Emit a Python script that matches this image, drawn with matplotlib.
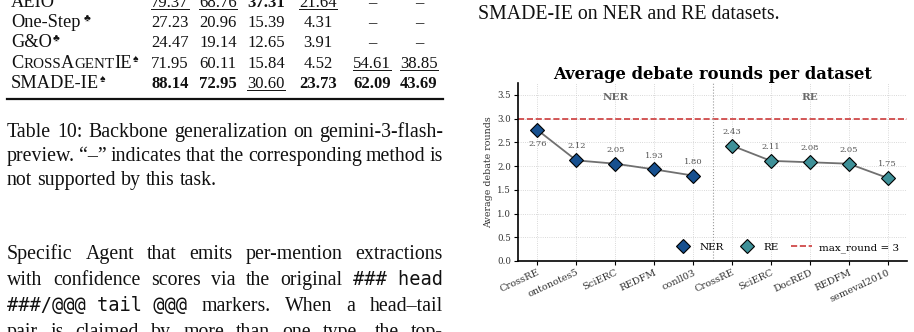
import numpy as np
import matplotlib
matplotlib.use("Agg")
import matplotlib.pyplot as plt
from matplotlib.lines import Line2D

# ---- chart data ----
ner_datasets = ["CrossRE", "ontonotes5", "SciERC", "REDFM", "conll03"]
ner_rounds = [2.76, 2.12, 2.05, 1.93, 1.80]
re_datasets = ["CrossRE", "SciERC", "DocRED", "REDFM", "semeval2010"]
re_rounds = [2.43, 2.11, 2.08, 2.05, 1.75]
max_round = 3
y_ticks = [0.0, 0.5, 1.0, 1.5, 2.0, 2.5, 3.0, 3.5]

# ---- surrounding page text (bottom of table 10) ----
table_methods = ["AEIO", "One-Step", "G&O", "CrossAgentIE", "SMADE-IE"]
table_marks = ["", " \u2663", "\u2663", "\u2660", "\u2660"]
table_values = [
    ["79.37", "68.76", "37.31", "21.64", "\u2013", "\u2013"],
    ["27.23", "20.96", "15.39", "4.31", "\u2013", "\u2013"],
    ["24.47", "19.14", "12.65", "3.91", "\u2013", "\u2013"],
    ["71.95", "60.11", "15.84", "4.52", "54.61", "38.85"],
    ["88.14", "72.95", "30.60", "23.73", "62.09", "43.69"],
]
bold_cells = {(0, 2), (4, 0), (4, 1), (4, 3), (4, 4), (4, 5)}
under_cells = {(0, 0), (0, 1), (0, 3), (3, 4), (3, 5), (4, 2)}

W, H = 914, 332
plt.rcParams["font.family"] = "DejaVu Serif"
fig = plt.figure(figsize=(W / 100, H / 100), dpi=100)
renderer = fig.canvas.get_renderer()

SERIF = ["Liberation Serif", "DejaVu Sans"]
MONO = "DejaVu Sans Mono"
FS = 14.3
FS_NAME = 13.2
FS_NUM = 12


def put(x, y, s, ha="left", **kw):
    kw.setdefault("family", SERIF)
    kw.setdefault("fontsize", FS)
    t = fig.text(x / W, 1 - y / H, s, ha=ha, va="baseline", color="#111111", **kw)
    return t, t.get_window_extent(renderer)


def justify(pieces, y, x0=7, x1=443, last=False):
    texts, widths = [], []
    for word, kw in pieces:
        t, bb = put(0, y, word, **kw)
        texts.append(t)
        widths.append(bb.width)
    gap = 5.0 if last else (x1 - x0 - sum(widths)) / (len(pieces) - 1)
    x = x0
    for t, w in zip(texts, widths):
        t.set_x(x / W)
        x += w + gap


# table rows
col_x = [170, 218, 266, 318, 372, 419]
row_y = [6.8, 27.1, 47.4, 67.7, 88.0]
for r, (name, mark) in enumerate(zip(table_methods, table_marks)):
    y = row_y[r]
    if name == "CrossAgentIE":
        x = 11
        for part, small in [("C", False), ("ROSS", True), ("A", False), ("GENT", True), ("IE", False)]:
            _, bb = put(x, y, part, fontsize=FS_NAME * 0.82 if small else FS_NAME)
            x = bb.x1
    else:
        _, bb = put(11, y, name, fontsize=FS_NAME)
        x = bb.x1
    if mark:
        put(x + (3 if mark.startswith(" ") else 0.5), y - 5.5, mark.strip(), fontsize=7.5)
    for c, val in enumerate(table_values[r]):
        _, bb = put(col_x[c], y, val, ha="center", fontsize=FS_NUM,
                    fontweight="bold" if (r, c) in bold_cells else "normal")
        if (r, c) in under_cells:
            uy = 1 - (y + 2.4) / H
            fig.add_artist(Line2D([bb.x0 / W, bb.x1 / W], [uy, uy], color="#111111", lw=0.7))
fig.add_artist(Line2D([7 / W, 443 / W], [1 - 99 / H] * 2, color="#111111", lw=1.6))

# table caption
sp = {}
justify([(w, sp) for w in "Table 10: Backbone generalization on gemini-3-flash-".split()], 137)
justify([(w, sp) for w in "preview. \u201c\u2013\u201d indicates that the corresponding method is".split()], 161)
justify([(w, sp) for w in "not supported by this task.".split()], 185, last=True)

# body paragraph
mono = {"family": MONO, "fontsize": 13.4}
justify([(w, sp) for w in "Specific Agent that emits per-mention extractions".split()], 259)
justify([(w, sp) for w in "with confidence scores via the original".split()] + [("### head", mono)], 285)
justify([("###/@@@ tail @@@", mono)] + [(w, sp) for w in "markers. When a head\u2013tail".split()], 311)
justify([(w, sp) for w in "pair is claimed by more than one type, the top-".split()], 337)

# right column caption end
put(478, 19, "SMADE-IE on NER and RE datasets.")

# ---- chart ----
ax = fig.add_axes([518 / W, 1 - 261 / H, (907 - 518) / W, (261 - 83) / H])
x_ner = np.arange(len(ner_datasets))
x_re = np.arange(len(re_datasets)) + len(ner_datasets)

for xs, ys in [(x_ner, ner_rounds), (x_re, re_rounds)]:
    ax.plot(xs, ys, color="#707070", lw=1.3, zorder=2)
ax.plot(x_ner, ner_rounds, ls="none", marker="D", ms=7, mfc="#17508f", mec="black", mew=0.8,
        zorder=3, label="NER")
ax.plot(x_re, re_rounds, ls="none", marker="D", ms=7, mfc="#3e9098", mec="black", mew=0.8,
        zorder=3, label="RE")
ax.axhline(max_round, color="#cc3b3b", ls="--", lw=1.2, zorder=1, label="max_round = 3")
ax.axvline(len(ner_datasets) - 0.5, color="#9a9a9a", ls=":", lw=0.8, zorder=1)

for xs, ys in [(x_ner, ner_rounds), (x_re, re_rounds)]:
    for xv, yv in zip(xs, ys):
        off = -10 if yv > 2.6 else 10
        ax.annotate(f"{yv:.2f}", (xv, yv), xytext=(0, off), textcoords="offset points",
                    ha="center", va="center", fontsize=6, color="#555555")

ax.text(np.mean(x_ner), 3.44, "NER", ha="center", va="center", fontsize=7.5, fontweight="bold",
        color="#6a6a6a")
ax.text(np.mean(x_re), 3.44, "RE", ha="center", va="center", fontsize=7.5, fontweight="bold",
        color="#6a6a6a")

ax.set_xlim(-0.5, len(ner_datasets) + len(re_datasets) - 0.5)
ax.set_ylim(0, 3.75)
ax.set_yticks(y_ticks)
ax.set_xticks(np.concatenate([x_ner, x_re]))
ax.set_xticklabels(ner_datasets + re_datasets, rotation=25, ha="right", rotation_mode="anchor")
ax.tick_params(axis="both", labelcolor="#333333", length=3, width=0.8, pad=2)
ax.tick_params(axis="x", labelsize=7)
ax.tick_params(axis="y", labelsize=6.2)
ax.grid(True, ls=":", lw=0.6, color="#cccccc")
ax.set_axisbelow(True)
for side in ["top", "right"]:
    ax.spines[side].set_visible(False)
for side in ["left", "bottom"]:
    ax.spines[side].set_linewidth(1.2)
ax.set_ylabel("Average debate rounds", fontsize=6.8, color="#333333", labelpad=3)
ax.set_title("Average debate rounds per dataset", fontsize=11.8, fontweight="bold", pad=2)
ax.legend(loc="lower right", ncol=3, frameon=False, fontsize=7.5, handlelength=2.0,
          columnspacing=1.2, handletextpad=0.6, borderaxespad=0.4)

fig.savefig("out.png", dpi=100)
